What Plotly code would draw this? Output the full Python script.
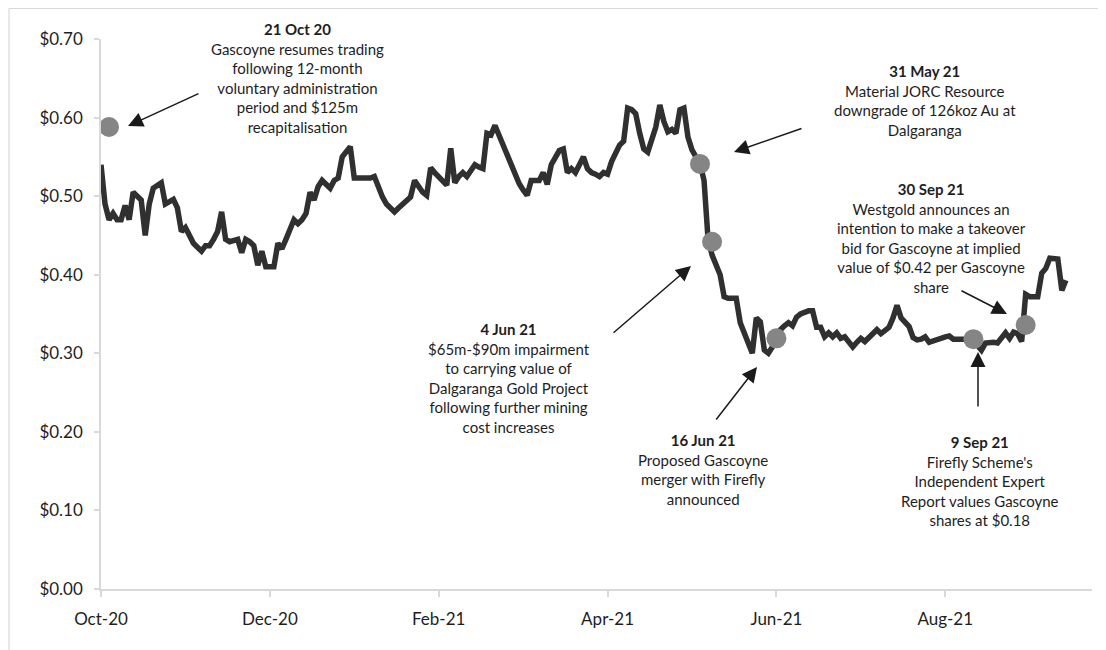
import plotly.graph_objects as go

# ---- data ----
price = [
    0.540, 0.490, 0.470, 0.478, 0.470, 0.470, 0.488, 0.470, 0.505, 0.500,
    0.495, 0.450, 0.490, 0.510, 0.513, 0.517, 0.490, 0.494, 0.496, 0.485,
    0.455, 0.460, 0.448, 0.440, 0.435, 0.430, 0.437, 0.437, 0.445, 0.455,
    0.480, 0.445, 0.442, 0.444, 0.445, 0.428, 0.445, 0.442, 0.437, 0.412,
    0.430, 0.410, 0.410, 0.410, 0.440, 0.433, 0.445, 0.458, 0.470, 0.465,
    0.470, 0.478, 0.505, 0.495, 0.512, 0.520, 0.515, 0.510, 0.520, 0.523,
    0.550, 0.557, 0.563, 0.523, 0.523, 0.523, 0.523, 0.523, 0.525, 0.510,
    0.499, 0.490, 0.485, 0.480, 0.485, 0.490, 0.495, 0.499, 0.520, 0.512,
    0.505, 0.501, 0.536, 0.530, 0.525, 0.520, 0.514, 0.561, 0.517, 0.525,
    0.530, 0.525, 0.532, 0.540, 0.537, 0.535, 0.580, 0.578, 0.590, 0.578,
    0.565, 0.550, 0.540, 0.530, 0.516, 0.508, 0.501, 0.520, 0.520, 0.520,
    0.530, 0.515, 0.540, 0.550, 0.558, 0.560, 0.530, 0.535, 0.530, 0.540,
    0.550, 0.535, 0.530, 0.528, 0.525, 0.530, 0.528, 0.544, 0.555, 0.565,
    0.570, 0.612, 0.610, 0.605, 0.580, 0.560, 0.556, 0.570, 0.588, 0.616,
    0.595, 0.582, 0.585, 0.580, 0.610, 0.612, 0.575, 0.559, 0.550, 0.541,
    0.520, 0.445, 0.425, 0.410, 0.400, 0.372, 0.370, 0.370, 0.370, 0.339,
    0.326, 0.315, 0.300, 0.345, 0.340, 0.304, 0.300, 0.308, 0.318, 0.330,
    0.335, 0.339, 0.335, 0.346, 0.350, 0.352, 0.354, 0.354, 0.333, 0.333,
    0.321, 0.326, 0.321, 0.326, 0.319, 0.321, 0.315, 0.308, 0.314, 0.319,
    0.315, 0.320, 0.326, 0.330, 0.325, 0.328, 0.333, 0.345, 0.361, 0.345,
    0.340, 0.334, 0.320, 0.317, 0.318, 0.321, 0.314, 0.316, 0.318, 0.320,
    0.321, 0.322, 0.318, 0.318, 0.318, 0.318, 0.318, 0.318, 0.310, 0.304,
    0.313, 0.314, 0.314, 0.313, 0.321, 0.326, 0.319, 0.327, 0.325, 0.315,
    0.375, 0.372, 0.372, 0.372, 0.402, 0.408, 0.421, 0.421, 0.420, 0.380,
    0.393,
]
trading_day = list(range(len(price)))

event_day = [2, 149, 152, 168, 217, 230]
event_value = [0.588, 0.541, 0.442, 0.319, 0.318, 0.336]

tick_day = [0, 42, 84, 126, 168, 210]
tick_label = ["Oct-20", "Dec-20", "Feb-21", "Apr-21", "Jun-21", "Aug-21"]

y_ticks = [0.0, 0.1, 0.2, 0.3, 0.4, 0.5, 0.6, 0.7]

notes = [
    ("21 Oct 20", ["Gascoyne resumes trading", "following 12-month",
                   "voluntary administration", "period and $125m",
                   "recapitalisation"]),
    ("31 May 21", ["Material JORC Resource", "downgrade of 126koz Au at",
                   "Dalgaranga"]),
    ("30 Sep 21", ["Westgold announces an", "intention to make a takeover",
                   "bid for Gascoyne at implied", "value of $0.42 per Gascoyne",
                   "share"]),
    ("4 Jun 21", ["$65m-$90m impairment", "to carrying value of",
                  "Dalgaranga Gold Project", "following further mining",
                  "cost increases"]),
    ("16 Jun 21", ["Proposed Gascoyne", "merger with Firefly", "announced"]),
    ("9 Sep 21", ["Firefly Scheme's", "Independent Expert",
                  "Report values Gascoyne", "shares at $0.18"]),
]

# ---- layout geometry (pixels) ----
W, H = 1106, 650
OFF = 8  # page body margin
L, T = 101 - OFF, 39 - OFF
PW, PH = 991, 550
R, B = W - L - PW, H - T - PH

def px(x):
    return (x - OFF - L) / PW

def py(y):
    return (T + PH - (y - OFF)) / PH

note_pos = [(297, 78.5), (925, 101), (931, 238.5), (509, 378), (703, 469.5), (980, 480.5)]
arrows = [  # (tail, tip) in screen pixels
    ((200, 93), (128, 126)),
    ((803, 128), (734, 152)),
    ((960, 290), (1007, 314)),
    ((612, 334), (691, 266)),
    ((715, 421), (757, 367)),
    ((978, 408), (978, 352)),
]

FONT = "Lato"
TXT = "#1e1e1e"
AXC = "#d9d9d9"

fig = go.Figure()
fig.add_trace(go.Scatter(
    x=trading_day, y=price, mode="lines",
    line=dict(color="#303030", width=5.5), hoverinfo="skip"))
fig.add_trace(go.Scatter(
    x=event_day, y=event_value, mode="markers",
    marker=dict(color="#858585", size=20, line=dict(width=0)), hoverinfo="skip"))

annotations = []
for (title, lines), (cx, cy) in zip(notes, note_pos):
    annotations.append(dict(
        xref="paper", yref="paper", x=px(cx), y=py(cy),
        xanchor="center", yanchor="middle", align="center",
        text="<b>" + title + "</b><br>" + "<br>".join(lines),
        showarrow=False, font=dict(family=FONT, size=15, color=TXT)))
for (tail, tip) in arrows:
    annotations.append(dict(
        xref="paper", yref="paper", x=px(tip[0]), y=py(tip[1]),
        ax=tail[0] - tip[0], ay=tail[1] - tip[1], axref="pixel", ayref="pixel",
        text="", showarrow=True, arrowhead=2, arrowsize=2.0, arrowwidth=1.5,
        arrowcolor="#1a1a1a", standoff=0))

border = dict(color=AXC, width=1.2)
fig.update_layout(
    width=W, height=H,
    margin=dict(l=L, r=R, t=T, b=B),
    paper_bgcolor="white", plot_bgcolor="white",
    showlegend=False,
    font=dict(family=FONT, color=TXT),
    annotations=annotations,
    shapes=[
        dict(type="line", xref="paper", yref="paper",
             x0=px(9), x1=px(1110), y0=py(8.5), y1=py(8.5), line=border, layer="below"),
        dict(type="line", xref="paper", yref="paper",
             x0=px(9), x1=px(9), y0=py(8.5), y1=py(660), line=border, layer="below"),
    ],
    xaxis=dict(range=[0, 246.5], tickmode="array", tickvals=tick_day,
               ticktext=tick_label, showgrid=False, zeroline=False,
               showline=True, linecolor=AXC, linewidth=2,
               ticks="outside", ticklen=6, tickcolor=AXC, tickwidth=1.5,
               ticklabelstandoff=8,
               tickfont=dict(family=FONT, size=17, color=TXT)),
    yaxis=dict(range=[0, 0.7], tickmode="array", tickvals=y_ticks,
               tickformat="$.2f", showgrid=False, zeroline=False,
               showline=True, linecolor=AXC, linewidth=1.5,
               ticks="outside", ticklen=5, tickcolor=AXC, tickwidth=1.5,
               ticklabelstandoff=8,
               tickfont=dict(family=FONT, size=17, color=TXT)),
)

fig.write_html("out.html")
